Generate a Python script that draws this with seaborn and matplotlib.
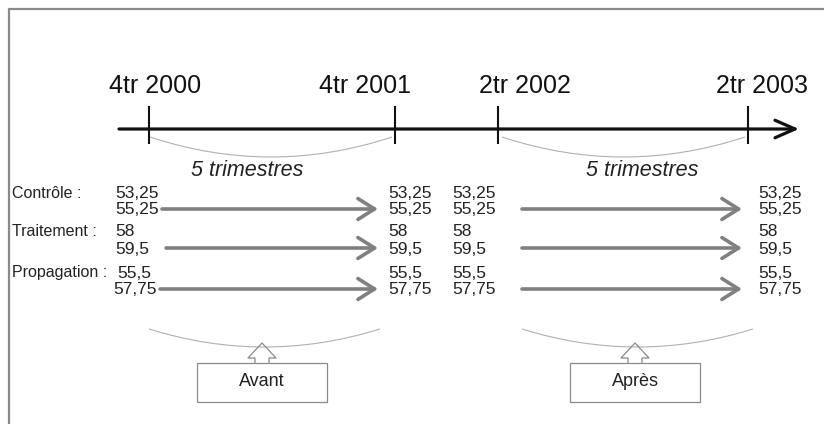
import matplotlib
matplotlib.use("Agg")
import matplotlib.pyplot as plt
import seaborn as sns
from matplotlib.path import Path
from matplotlib.patches import PathPatch, Rectangle

# --- content ---
periods = ["4tr 2000", "4tr 2001", "2tr 2002", "2tr 2003"]
span_label = "5 trimestres"
groups = ["Contrôle :", "Traitement :", "Propagation :"]
values_first = ["53,25", "58", "55,5"]
values_second = ["55,25", "59,5", "57,75"]
phases = ["Avant", "Après"]

# --- layout (pixel space, y downwards) ---
tick_x = [149, 395, 498, 748]
label_x = [155, 365, 525, 762]
row_y = [193, 232, 273]
row_gap = 17
arrow_start = [[162, 166, 160], [522, 522, 522]]
arrow_end = [[378, 378, 378], [742, 742, 742]]
num_cols = [[115, 115, 117], [388, 388, 388], [452, 452, 452], [758, 758, 758]]
phase_x = [262, 635]

sns.set_theme(style="white")
plt.rcParams["font.family"] = ["Liberation Sans", "DejaVu Sans"]

fig = plt.figure(figsize=(8.24, 4.24), dpi=100)
ax = fig.add_axes([0, 0, 1, 1])
ax.set_xlim(0, 824)
ax.set_ylim(424, 0)
ax.axis("off")

# frame
ax.plot([9, 9, 824], [424, 9, 9], color="#8a8a8a", lw=1.6)

# timeline
ax.annotate("", xy=(799, 129), xytext=(119, 129),
            arrowprops=dict(arrowstyle="->,head_length=0.8,head_width=0.35",
                            mutation_scale=18, lw=2.3, color="#111111",
                            shrinkA=0, shrinkB=0))
sns.scatterplot(x=tick_x, y=[124.5] * len(tick_x), marker="|", s=730,
                linewidth=1.5, color="#111111", ax=ax, legend=False)
for lab, lx in zip(periods, label_x):
    ax.text(lx, 86, lab, fontsize=18, ha="center", va="center", color="#111111")


def bracket(x0, x1, y0, dip):
    verts = [(x0, y0), ((x0 + x1) / 2, y0 + 2 * dip), (x1, y0)]
    p = Path(verts, [Path.MOVETO, Path.CURVE3, Path.CURVE3])
    ax.add_patch(PathPatch(p, fc="none", ec="#b0b0b0", lw=0.8))


# top brackets + span labels
for (a, b), cx in zip([(150, 392), (502, 745)], [247, 642]):
    bracket(a, b, 137, 20)
    ax.text(cx, 170, span_label, fontsize=15.5, style="italic",
            ha="center", va="center", color="#222222")

# group labels and values
for i, g in enumerate(groups):
    ax.text(12, row_y[i], g, fontsize=11.5, ha="left", va="center", color="#222222")
    for j, col in enumerate(num_cols):
        shift = 4 if (i == 2 and j == 0) else 0
        ax.text(col[i], row_y[i], values_first[i], fontsize=12.5, ha="left",
                va="center", color="#222222")
        ax.text(col[i] - shift, row_y[i] + row_gap, values_second[i], fontsize=12.5,
                ha="left", va="center", color="#222222")
    for k in range(2):
        ax.annotate("", xy=(arrow_end[k][i], row_y[i] + row_gap - 1),
                    xytext=(arrow_start[k][i], row_y[i] + row_gap - 1),
                    arrowprops=dict(arrowstyle="->,head_length=0.8,head_width=0.5",
                                    mutation_scale=15, lw=2.6, color="#808080",
                                    shrinkA=0, shrinkB=0))

# bottom brackets, hollow arrows and boxes
for cx, name in zip(phase_x, phases):
    bracket(cx - 113, cx + 118, 329, 18)
    ax.plot([cx - 7, cx - 7, cx - 14, cx, cx + 14, cx + 7, cx + 7],
            [363, 358, 358, 343, 358, 358, 363], color="#8a8a8a", lw=0.9)
    ax.add_patch(Rectangle((cx - 65, 363), 130, 39, fc="white", ec="#8a8a8a", lw=0.9))
    ax.text(cx, 382, name, fontsize=13, ha="center", va="center", color="#222222")

fig.savefig("out.png", dpi=100)
